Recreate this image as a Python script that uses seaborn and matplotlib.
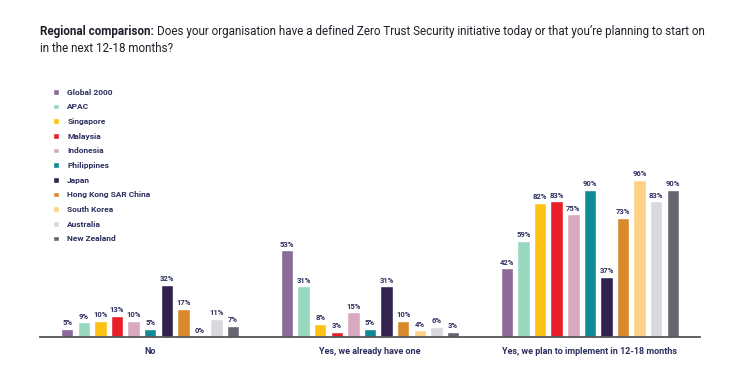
# Regional comparison - Zero Trust Security initiative
import pandas as pd
import matplotlib
matplotlib.use("Agg")
import matplotlib.pyplot as plt
import seaborn as sns

# data
answers = ["No", "Yes, we already have one", "Yes, we plan to implement in 12-18 months"]
regions = ["Global 2000", "APAC", "Singapore", "Malaysia", "Indonesia", "Philippines",
           "Japan", "Hong Kong SAR China", "South Korea", "Australia", "New Zealand"]
no_vals = [5, 9, 10, 13, 10, 5, 32, 17, 0, 11, 7]
have_vals = [53, 31, 8, 3, 15, 5, 31, 10, 4, 6, 3]
plan_vals = [42, 59, 82, 83, 75, 90, 37, 73, 96, 83, 90]
colors = ["#8c6a99", "#97d8bf", "#fdc214", "#e8202a", "#d9aabf", "#0f8b96",
          "#33244f", "#d98a2b", "#fed286", "#d9d9dd", "#67666f"]

rows = []
for ans, vals in zip(answers, [no_vals, have_vals, plan_vals]):
    for reg, v in zip(regions, vals):
        rows.append({"answer": ans, "region": reg, "value": v})
df = pd.DataFrame(rows)

sns.set_style("white")
plt.rcParams["font.family"] = ["Roboto", "DejaVu Sans"]
navy = "#2c2f5e"

fig = plt.figure(figsize=(7.32, 3.71), dpi=100)
ax = fig.add_axes([0.055, 0.0916, 0.901, 0.692])

sns.barplot(data=df, x="answer", y="value", hue="region", palette=colors,
            hue_order=regions, order=answers, width=0.83, gap=0.25,
            saturation=1, ax=ax, legend=True)

for cont in ax.containers:
    ax.bar_label(cont, labels=[f"{b.get_height():.0f}%" for b in cont],
                 padding=2, fontsize=5.5, fontweight="bold", color=navy)

ax.set_xlim(-0.5, 2.5)
ax.set_ylim(0, 157)
ax.set_xlabel("")
ax.set_ylabel("")
ax.set_yticks([])
ax.tick_params(axis="x", length=0, pad=7)
for lab in ax.get_xticklabels():
    lab.set_fontsize(6.5)
    lab.set_fontweight("bold")
    lab.set_color(navy)
for side in ["top", "right", "left"]:
    ax.spines[side].set_visible(False)
ax.spines["bottom"].set_color("#555555")
ax.spines["bottom"].set_linewidth(1.3)

leg = ax.legend(loc="upper left", bbox_to_anchor=(0.015, 0.98), frameon=False,
                fontsize=6, handlelength=0.65, handleheight=0.65, handletextpad=1.0,
                labelspacing=0.92, borderaxespad=0)
for t in leg.get_texts():
    t.set_color(navy)
    t.set_fontweight("bold")

# title: bold lead-in followed by regular text
t1 = fig.text(40 / 732, 1 - 35 / 371, "Regional comparison:", fontsize=8.4,
              fontweight="bold", color="#1e1e28", va="baseline")
fig.canvas.draw()
bb = t1.get_window_extent()
fig.text(bb.x1 / fig.bbox.width + 0.004, 1 - 35 / 371,
         "Does your organisation have a defined Zero Trust Security initiative today or that you\u2019re planning to start on",
         fontsize=8.4, color="#1e1e28", va="baseline")
fig.text(40 / 732, 1 - 52 / 371, "in the next 12-18 months?", fontsize=8.4,
         color="#1e1e28", va="baseline")

fig.savefig("out.png", dpi=100)
